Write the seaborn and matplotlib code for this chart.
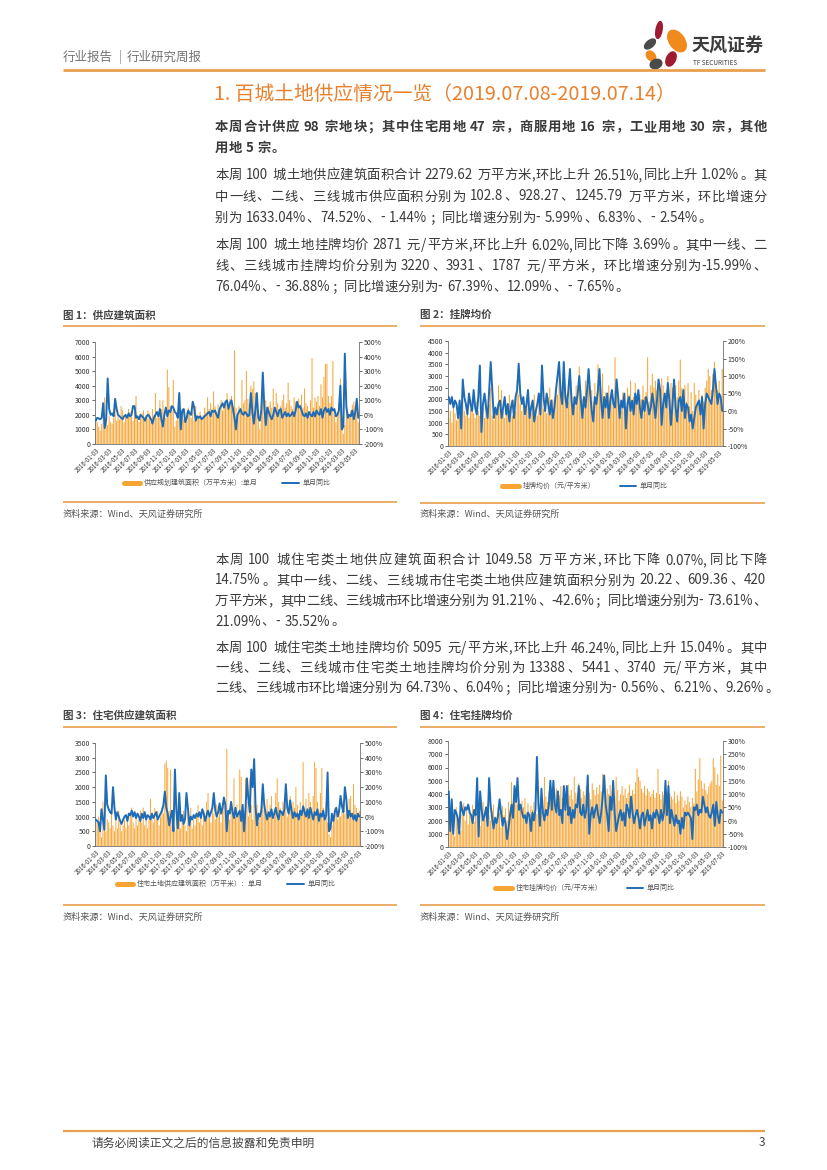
import re
import numpy as np
import pandas as pd
import matplotlib.pyplot as plt
import seaborn as sns
from matplotlib.lines import Line2D
from matplotlib.patches import Ellipse

# ---- data (weekly) ----
start_date = '2016-01-03'

supply_area = [
    1700, 1500, 1200, 900, 1400, 2100, 3200, 1800, 1300, 1900,
    1500, 1400, 1800, 2500, 1600, 1900, 1700, 2600, 2300, 1500,
    2000, 1800, 2400, 2200, 1900, 1600, 2200, 3300, 1800, 1500,
    1900, 2100, 2300, 1600, 1800, 2300, 2100, 1500, 2400, 2000,
    3500, 1800, 2100, 3000, 2400, 3000, 2200, 1800, 5100, 3900,
    2600, 2300, 4400, 1200, 1600, 1800, 2300, 1400, 2000, 1700,
    1500, 2200, 2500, 2100, 1800, 2200, 1600, 2600, 2000, 1900,
    2200, 1700, 2000, 2500, 2200, 3200, 2400, 2800, 2100, 3600,
    2600, 2200, 2700, 2400, 3000, 2300, 2600, 2800, 3500, 2500,
    3100, 3300, 2600, 6400, 2500, 2000, 2600, 2400, 4400, 2800,
    3000, 5000, 3100, 2700, 4000, 3800, 4300, 3500, 2600, 2000,
    1000, 2500, 3200, 2700, 3000, 2300, 2600, 2900, 2500, 3800,
    2400, 3500, 2800, 2200, 2600, 3000, 3400, 2500, 2800, 4200,
    3000, 2600, 2400, 3200, 2900, 2800, 3100, 2700, 3400, 2500,
    3800, 2800, 2600, 2200, 3000, 5900, 2500, 3200, 2900, 3300,
    2600, 4100, 3200, 4600, 5500, 5500, 3300, 2800, 3300, 5700,
    2000, 1500, 2200, 2800, 4500, 1600, 700, 1300, 2600, 2200,
    2000, 2300, 2700, 2900, 2600, 2800, 1500]
supply_area_yoy = [
    -40, -20, -25, -30, -20, 80, -90, -30, 250, 40,
    0, 10, -10, 110, 40, 0, -10, -20, -30, -10,
    0, -20, 10, -10, 0, 60, 60, -20, -10, -30,
    0, -10, -20, -40, -10, 0, -10, -30, -60, -20,
    0, 20, -10, 40, -30, -80, 0, 50, -10, 30,
    20, 60, 50, 20, 10, -20, 150, -100, 30, 40,
    -50, -20, 30, 10, 0, 90, 50, -40, -10, -20,
    -10, -30, -20, -10, 0, 10, 20, -10, 30, 20,
    30, 0, -20, 40, 60, 80, 50, 90, 100, 40,
    80, 100, 40, -20, -100, 0, 20, 40, 10, 0,
    20, 10, -10, 0, 150, 20, -60, 30, 150, -20,
    -40, 30, 290, 60, -70, 50, 20, -10, -30, 0,
    50, 20, -10, 30, 40, -20, 0, 20, -10, 10,
    -10, 0, 20, -10, 30, 90, 50, 60, 30, 0,
    -10, 10, -20, 20, 0, -10, 20, -10, 30, 10,
    0, 40, -20, 30, 50, 20, 40, 0, 50, 30,
    40, -10, 0, 30, 200, -100, -80, 420, 60, -20,
    0, -10, 30, -30, 20, 110, -20]

list_price = [
    1200, 1500, 1000, 1700, 1400, 1100, 1600, 1300, 900, 2000,
    1500, 1300, 1800, 1200, 1600, 2000, 1400, 1200, 1900, 1500,
    1300, 900, 1600, 1200, 2000, 1400, 1800, 2500, 1300, 1100,
    1600, 1400, 2600, 1800, 2400, 1500, 1200, 1700, 1400, 2200,
    1600, 1300, 2000, 1500, 2800, 2200, 1800, 1500, 1900, 1300,
    1600, 2100, 1200, 1400, 1800, 2200, 1500, 1300, 2000, 1700,
    2300, 1600, 1900, 1400, 2100, 2500, 1800, 2000, 1700, 2400,
    2200, 3500, 2600, 2000, 2900, 2500, 2200, 1900, 3000, 2400,
    2100, 1800, 2600, 2200, 3400, 2400, 2000, 1700, 2800, 2300,
    2600, 2000, 2400, 1900, 2700, 2100, 3500, 2500, 2200, 3100,
    2000, 2300, 1800, 2600, 2100, 2400, 1900, 3800, 2200, 2000,
    1800, 1500, 2300, 2000, 1700, 2500, 2200, 2800, 1900, 2100,
    2700, 1800, 2400, 2200, 2000, 2600, 2100, 2300, 3800, 1900,
    2600, 3100, 2500, 2800, 2400, 2500, 2200, 2900, 2600, 2000,
    2400, 3000, 2200, 2700, 2500, 2300, 2600, 2100, 2800, 3700,
    2500, 2000, 2600, 1900, 2700, 1700, 2300, 1500, 2700, 2200,
    1800, 2400, 1600, 2200, 1900, 2500, 2800, 3300, 3000, 2400,
    3100, 3600, 2700, 2400, 2800, 1900, 3300]
list_price_yoy = [
    40, 20, 40, 10, 30, 20, -20, 30, -50, 90,
    40, 20, -10, 50, 20, 0, 60, 10, -10, 40,
    130, -60, 20, 50, 10, -20, 60, 140, 60, -20,
    10, -10, 20, 30, -20, 10, 40, -10, 20, -30,
    10, 30, -20, 40, 60, 135, 50, 20, 40, -10,
    20, 60, -20, 10, 30, -30, 0, 20, 50, -10,
    130, 40, 0, 50, 20, -10, 30, -20, 10, 60,
    100, 140, 50, 20, 140, 40, 10, 60, 120, 30,
    -10, 40, 20, 50, 100, 30, -20, 40, 10, 60,
    120, 50, 0, -30, 40, 20, 60, 120, 30, -20,
    40, 10, 50, -20, 30, 60, 20, 10, 90, 40,
    -20, 30, 10, 50, -50, 20, 40, 0, 30, -10,
    50, 20, 60, 10, -20, 30, 0, 40, 20, -10,
    10, 50, 20, -20, 30, 90, 60, -40, 20, 50,
    10, 80, 30, -40, 20, 90, 10, -30, 30, 40,
    0, 60, -20, 20, 10, -30, -10, -50, -20, 10,
    20, 30, -10, 40, -50, 20, 50, 40, 30, 20,
    60, 120, 70, 20, 50, 40, 0]

res_area = [
    900, 800, 1000, 600, 300, 1500, 700, 500, 900, 800,
    600, 1100, 700, 500, 900, 600, 1200, 800, 500, 700,
    900, 600, 1000, 700, 1100, 1300, 800, 600, 1000, 700,
    900, 1200, 800, 1300, 700, 1000, 600, 900, 1600, 1100,
    800, 1300, 900, 1200, 700, 1000, 1300, 1100, 2800, 2900,
    2650, 1200, 2600, 900, 600, 500, 1000, 700, 1300, 600,
    900, 1200, 700, 500, 1100, 800, 1300, 600, 900, 700,
    1000, 1400, 800, 1100, 700, 1200, 900, 1500, 1800, 1000,
    800, 1200, 1100, 900, 1400, 1000, 1200, 800, 1300, 1600,
    1200, 3300, 1100, 900, 1500, 1200, 2300, 1000, 1400, 1100,
    2600, 2350, 1300, 1200, 2300, 1500, 1000, 2300, 1400, 900,
    2600, 1200, 1400, 800, 1000, 1300, 1500, 1200, 1000, 1600,
    1100, 1400, 1700, 1200, 1000, 1800, 2300, 1500, 1300, 1100,
    1500, 1200, 1400, 1000, 1300, 1700, 1200, 1500, 1300, 2000,
    1400, 1100, 1500, 1200, 2850, 1300, 1600, 1200, 1800, 1500,
    1300, 1700, 2850, 2650, 1500, 1200, 1800, 2650, 1300, 1000,
    1500, 800, 400, 300, 700, 1000, 1300, 1100, 900, 1300,
    1000, 1200, 1500, 1100, 1400, 1200, 1600, 1700, 1100, 2100,
    1400, 1300, 1000, 1200]
res_area_yoy = [
    -20, -30, -40, -100, 50, -20, -90, 280, 80, 50,
    30, 20, 200, 60, -20, 30, 0, -30, -50, -20,
    0, 10, -30, 20, 10, 40, 0, 30, -10, 20,
    0, -30, 20, -10, 30, -20, 10, 0, -20, 20,
    -10, 10, 30, -20, 0, 20, 40, 80, 170, 60,
    20, -60, 0, 40, -100, 320, 40, -80, 160, -30,
    10, -50, -20, 160, 60, -60, 0, -20, 10, -10,
    20, 0, 30, -10, 50, 20, -30, 10, 40, 0,
    30, 60, 160, 40, 0, 30, 90, 20, 60, 130,
    80, -100, 40, 20, 100, 30, -10, 60, 0, 20,
    40, -30, 80, -100, 50, 260, 120, 30, 320, 200,
    390, 60, -60, 20, 0, 40, 220, 80, 20, -20,
    30, 0, 50, -10, 20, 60, 10, -20, 40, 30,
    10, 50, 220, 60, 20, 110, 40, -10, 30, 0,
    20, -20, 40, 10, 70, 30, 0, 50, -10, 60,
    20, -20, 30, 10, 50, -30, 20, 0, 40, -20,
    10, 300, -100, -80, 20, -30, 30, 60, 0, 40,
    140, 70, 30, 200, 120, -10, 40, 0, 20, -20,
    10, -30, 20, 0]

res_price = [
    3500, 1300, 2800, 1500, 800, 3000, 1800, 2200, 1200, 2500,
    3300, 2000, 2700, 1700, 3000, 2400, 3200, 1900, 2600, 3500,
    2200, 1600, 2900, 3400, 2100, 2800, 3300, 2400, 2000, 2700,
    3200, 2300, 1800, 3000, 2600, 1500, 3100, 2400, 2900, 2000,
    3400, 2700, 4900, 3300, 3800, 4000, 3200, 3600, 2800, 3500,
    3000, 3700, 2600, 3300, 2200, 3100, 2800, 3400, 3000, 2500,
    3600, 3200, 2700, 3000, 5300, 3800, 3400, 4200, 3900, 4500,
    4100, 3600, 4400, 3200, 3900, 4600, 3700, 4200, 3500, 4000,
    4700, 3900, 4300, 3600, 5300, 4100, 3800, 4800, 4400, 3700,
    4200, 3900, 4600, 5300, 4100, 3600, 4800, 4300, 3900, 4500,
    4000, 4700, 4200, 5500, 4500, 3800, 4400, 4000, 4700, 3600,
    4200, 3800, 5300, 4300, 3500, 4000, 4600, 3900, 4400, 3700,
    4100, 4700, 3800, 4300, 4000, 4900, 5900, 5300, 5000, 4400,
    4100, 4600, 3900, 4400, 4200, 3800, 4000, 4300, 3700, 4100,
    5900, 4000, 3600, 4200, 3900, 4500, 4100, 5000, 4000, 3800,
    3600, 4200, 3300, 3900, 3500, 4200, 3800, 3000, 3500, 3200,
    3800, 3400, 3000, 3700, 3300, 5900, 4200, 5100, 6700, 5000,
    4400, 4800, 4300, 4000, 4600, 4800, 5000, 6700, 6000, 4700,
    5500, 4600, 6900, 3500]
res_price_yoy = [
    110, -40, 80, -50, 40, 30, 10, -50, 70, 40,
    20, 50, 40, 60, 30, 20, -10, 40, 20, 160,
    -60, 110, 40, 0, 20, 50, -20, 160, 60, 10,
    -30, 10, -10, 20, 80, 30, -20, 10, -10, -70,
    -30, 20, 60, 10, 130, 70, 160, 40, 60, 30,
    10, 20, -10, 30, 20, -40, 30, 0, 40, 240,
    60, -20, 120, 30, 0, 40, 20, 60, 150, 40,
    150, 60, 30, 110, 20, 40, -10, 130, 40, 130,
    20, 50, -10, 40, 10, 60, 50, 130, 30, 20,
    60, 10, 40, 170, -50, 20, 50, 10, 40, 60,
    20, -10, 30, 90, 170, 60, 20, -40, 90, 40,
    150, 30, -40, -10, 20, 40, 0, 30, -20, 60,
    40, 10, 90, 30, -10, 20, 40, 10, -30, 20,
    30, -20, 10, 40, 0, 20, -30, 30, 10, 40,
    20, -10, 40, 0, 30, 150, 20, 130, -10, 40,
    10, -20, 20, -10, 0, -50, 10, -30, 30, 20,
    30, 20, 10, -70, 50, 40, 60, 20, 40, 30,
    90, 60, 30, 50, 20, 10, 30, 60, -20, 70,
    20, -10, 40, 30]

para_top = [
    ["本周合计供应 98 宗地块；其中住宅用地 47 宗，商服用地 16 宗，工业用地 30 宗，其他",
     "用地 5 宗。"],
    ["本周 100 城土地供应建筑面积合计 2279.62 万平方米,环比上升 26.51%,同比上升 1.02%。其",
     "中一线、二线、三线城市供应面积分别为 102.8、928.27、1245.79 万平方米，环比增速分",
     "别为 1633.04%、74.52%、- 1.44%；同比增速分别为- 5.99%、6.83%、- 2.54%。"],
    ["本周 100 城土地挂牌均价 2871 元/平方米,环比上升 6.02%,同比下降 3.69%。其中一线、二",
     "线、三线城市挂牌均价分别为 3220、3931、1787 元/平方米，环比增速分别为-15.99%、",
     "76.04%、- 36.88%；同比增速分别为- 67.39%、12.09%、- 7.65%。"],
]
para_mid = [
    ["本周 100 城住宅类土地供应建筑面积合计 1049.58 万平方米,环比下降 0.07%,同比下降",
     "14.75%。其中一线、二线、三线城市住宅类土地供应建筑面积分别为 20.22、609.36、420",
     "万平方米，其中二线、三线城市环比增速分别为 91.21%、-42.6%；同比增速分别为- 73.61%、",
     "21.09%、- 35.52%。"],
    ["本周 100 城住宅类土地挂牌均价 5095 元/平方米,环比上升 46.24%,同比上升 15.04%。其中",
     "一线、二线、三线城市住宅类土地挂牌均价分别为 13388、5441、3740 元/平方米，其中",
     "二线、三线城市环比增速分别为 64.73%、6.04%；同比增速分别为- 0.56%、6.21%、9.26%。"],
]

# ---- style ----
sns.set_theme(style='white')
plt.rcParams['font.family'] = ['Noto Sans CJK SC', 'DejaVu Sans']
plt.rcParams['axes.unicode_minus'] = False

BAR = '#F6A433'
BLUE = '#1F6CB6'
RULE = '#E9A04E'
TITLE = '#E8812E'
TEXT = '#3a3a3a'
W, H = 827, 1170

fig = plt.figure(figsize=(W / 100, H / 100), dpi=100, facecolor='white')
bg = fig.add_axes([0, 0, 1, 1])
bg.set_xlim(0, W)
bg.set_ylim(H, 0)
bg.axis('off')
renderer = fig.canvas.get_renderer()


def hline(x0, x1, y, lw=1.3, color=RULE):
    bg.plot([x0, x1], [y, y], color=color, lw=lw, solid_capstyle='butt')


def text_line(s, x0, x1, y, size, weight='normal', justify=True):
    # split into ascii runs and single CJK chars, then spread them over the line
    em = size * 100 / 72
    parts = re.findall(r'( ?)([!-~]+|[^\x00-\x7f])', s)
    objs, widths = [], []
    for sp, tok in parts:
        t = bg.text(0, y, tok, fontsize=size, fontweight=weight, color=TEXT,
                    ha='left', va='center')
        if tok.isascii():
            w = t.get_window_extent(renderer).width + 0.08 * em
        else:
            w = em
        objs.append(t)
        widths.append(w + (0.28 * em if sp else 0))
    total = sum(widths)
    gap = (x1 - x0 - total) / (len(objs) - 1) if justify and len(objs) > 1 else 0
    x = x0
    for (sp, tok), t, w in zip(parts, objs, widths):
        t.set_x(x + (0.28 * em if sp else 0))
        x += w + gap


def paragraph(lines, y0, step, size, weight='normal'):
    for i, s in enumerate(lines):
        text_line(s, 215, 767, y0 + i * step, size, weight, justify=(i < len(lines) - 1))


def chart(box, bars, yoy, ymax, ystep, y2, y2step, caption, cap_box, legend_label, leg_c):
    x0c, x1c, ycap, yrule, ybot, ysrc = cap_box
    bg.text(x0c, ycap, caption, fontsize=7.6, fontweight='bold', color='#444444', va='center')
    hline(x0c, x1c, yrule, lw=1.2)
    hline(x0c, x1c, ybot, lw=1.2)
    bg.text(x0c, ysrc, '资料来源：Wind、天风证券研究所', fontsize=6.6, color='#555555', va='center')

    left, top, right, bottom = box
    ax = fig.add_axes([left / W, 1 - bottom / H, (right - left) / W, (bottom - top) / H])
    idx = np.arange(len(bars))
    sns.barplot(x=idx, y=bars, ax=ax, native_scale=True, color=BAR, width=0.66,
                saturation=1, errorbar=None, linewidth=0)
    for p in ax.patches:
        p.set_snap(False)
    ax2 = ax.twinx()
    sns.lineplot(x=idx, y=yoy, ax=ax2, color=BLUE, linewidth=1.4)

    ax.set_xlim(-0.5, len(bars) - 0.5)
    ax.set_ylim(0, ymax)
    ax.set_yticks(np.arange(0, ymax + 1, ystep))
    ax2.set_ylim(*y2)
    t2 = np.arange(y2[0], y2[1] + 1, y2step)
    ax2.set_yticks(t2)
    ax2.set_yticklabels([f'{v}%' for v in t2])

    dates = pd.date_range(start_date, periods=len(bars), freq='7D')
    s0 = pd.Timestamp(start_date)
    ticks = []
    k = 0
    while s0 + pd.DateOffset(months=2 * k) <= dates[-1]:
        ticks.append(s0 + pd.DateOffset(months=2 * k))
        k += 1
    ax.set_xticks([(t - s0).days / 7 for t in ticks])
    ax.set_xticklabels([t.strftime('%Y-%m-%d') for t in ticks], rotation=45,
                       ha='right', rotation_mode='anchor')

    for a in (ax, ax2):
        a.set_xlabel('')
        a.set_ylabel('')
        a.tick_params(labelsize=5, colors='#333333', length=2, width=0.5, pad=1.5)
        for side in ('top', 'left', 'right', 'bottom'):
            a.spines[side].set_visible(False)
    ax.tick_params(axis='x', labelsize=4.4, length=0, pad=2)
    ax.spines['left'].set_visible(True)
    ax.spines['bottom'].set_visible(True)
    ax2.spines['right'].set_visible(True)
    for sp in (ax.spines['left'], ax.spines['bottom'], ax2.spines['right']):
        sp.set_color('#6f6f6f')
        sp.set_linewidth(0.6)
    ax.grid(False)
    ax2.grid(False)

    handles = [Line2D([0], [0], color=BAR, lw=3.6), Line2D([0], [0], color=BLUE, lw=1.4)]
    fig.legend(handles, [legend_label, '单月同比'], loc='center',
               bbox_to_anchor=(leg_c[0] / W, 1 - leg_c[1] / H), ncol=2, frameon=False,
               fontsize=5, handlelength=2.4, columnspacing=3.5, handletextpad=0.5,
               labelcolor='#555555')


# ---- header ----
bg.text(63, 57, '行业报告', fontsize=9, color='#737373', va='center')
bg.text(119, 57, '|', fontsize=9, color='#9a9a9a', va='center')
bg.text(127, 57, '行业研究周报', fontsize=9, color='#737373', va='center')
hline(63, 765, 70, lw=2.0)

# logo petals
for (cx, cy, w, h, ang, col) in [
        (659, 30, 6, 17, 10, '#9E1B32'),
        (677, 41, 15, 24, -35, '#F08A1C'),
        (650, 44, 7, 13, 50, '#4A4A4A'),
        (651, 56, 8, 11, -40, '#F08A1C'),
        (671, 59, 9, 15, 25, '#9E1B32'),
        (656, 64, 9, 12, 70, '#4A4A4A')]:
    bg.add_patch(Ellipse((cx, cy), w, h, angle=ang, color=col))
bg.text(691, 46, '天风证券', fontsize=13, fontweight='bold', color='#3c3c3c', va='center')
bg.text(693, 63, 'TF SECURITIES', fontsize=4.6, color='#3c3c3c', va='center')

# ---- section title and paragraphs ----
bg.text(214, 94, '1. 百城土地供应情况一览（2019.07.08-2019.07.14）', fontsize=14.2,
        color=TITLE, va='center')
paragraph(para_top[0], 127, 21, 9.6, weight='bold')
paragraph(para_top[1], 175, 21.5, 9.6)
paragraph(para_top[2], 245, 21, 9.6)
paragraph(para_mid[0], 560, 20.5, 9.6)
paragraph(para_mid[1], 648, 20, 9.6)

# ---- charts ----
chart((95, 342, 359, 444), supply_area, supply_area_yoy, 7000, 1000, (-200, 500), 100,
      '图 1：供应建筑面积', (63, 397, 315, 326, 502, 514),
      '供应规划建筑面积（万平方米）:单月', (227, 483))
chart((448, 341, 723, 446), list_price, list_price_yoy, 4500, 500, (-100, 200), 50,
      '图 2：挂牌均价', (420, 765, 315, 326, 503, 514),
      '挂牌均价（元/平方米）', (585, 486))
chart((95, 743, 360, 846), res_area, res_area_yoy, 3500, 500, (-200, 500), 100,
      '图 3：住宅供应建筑面积', (63, 397, 716, 727, 905, 917),
      '住宅土地供应建筑面积（万平米）：单月', (226, 884))
chart((448, 741, 723, 847), res_price, res_price_yoy, 8000, 1000, (-100, 300), 50,
      '图 4：住宅挂牌均价', (420, 765, 716, 727, 905, 917),
      '住宅挂牌均价（元/平方米）', (585, 888))

# ---- footer ----
hline(63, 765, 1131, lw=1.6)
bg.text(92, 1143, '请务必阅读正文之后的信息披露和免责申明', fontsize=8.5, color='#444444', va='center')
bg.text(765, 1143, '3', fontsize=8.5, color='#444444', va='center', ha='right')

fig.savefig('out.png', dpi=100, facecolor='white')
